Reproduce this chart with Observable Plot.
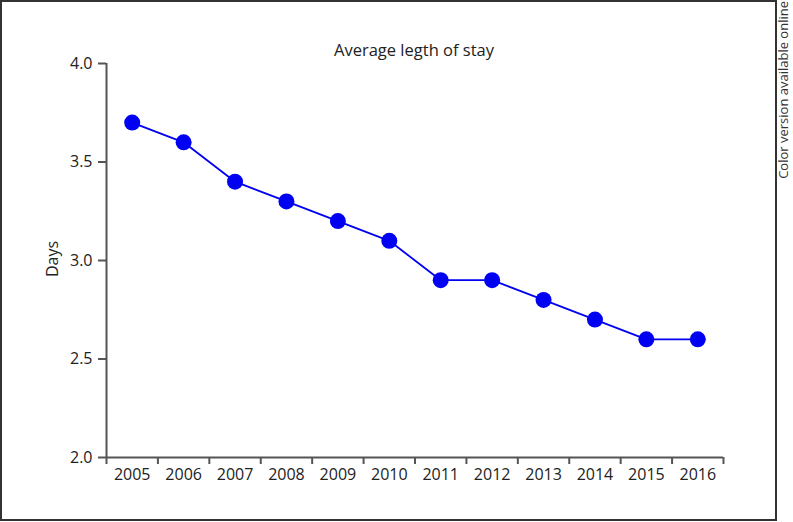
<!DOCTYPE html>
<html><head><meta charset="utf-8">
<script src="https://cdn.jsdelivr.net/npm/d3@7"></script>
<script src="https://cdn.jsdelivr.net/npm/@observablehq/plot@0.6"></script>
<style>
body{margin:0;background:#fff;font-family:"Open Sans",sans-serif;}
#wrap{position:relative;width:793px;height:522px;overflow:hidden;}
#wrap svg{position:absolute;left:0;top:0;}
</style>
</head><body>
<div id="wrap"></div>
<script>
const years = [2005, 2006, 2007, 2008, 2009, 2010, 2011, 2012, 2013, 2014, 2015, 2016];
const days = [3.7, 3.6, 3.4, 3.3, 3.2, 3.1, 2.9, 2.9, 2.8, 2.7, 2.6, 2.6];
const yTicks = [2.0, 2.5, 3.0, 3.5, 4.0];
const title = "Average legth of stay";
const yLabel = "Days";
const sideNote = "Color version available online";

const data = years.map((year, i) => ({year, days: days[i]}));
const bounds = [...years.map(y => y - 0.5), years[years.length - 1] + 0.5];
const axisColor = "#555";
const blue = "#0000f2";

const chart = Plot.plot({
  width: 793, height: 522,
  marginLeft: 106, marginRight: 70, marginTop: 63, marginBottom: 65,
  style: {fontFamily: "Open Sans", fontSize: "16px", color: "#222", background: "transparent"},
  x: {domain: [bounds[0], bounds[bounds.length - 1]]},
  y: {domain: [yTicks[0], yTicks[yTicks.length - 1]]},
  marks: [
    Plot.axisY({ticks: yTicks, tickFormat: d => d.toFixed(1), tickSize: 8, tickPadding: 6, label: null, stroke: axisColor, strokeWidth: 2, fontSize: 16}),
    Plot.axisX({ticks: bounds, tickFormat: () => "", tickSize: 7, label: null, stroke: axisColor, strokeWidth: 2}),
    Plot.axisX({ticks: years, tickFormat: d => String(d), tickSize: 0, tickPadding: 11, label: null, fontSize: 16}),
    Plot.ruleX([bounds[0]], {stroke: axisColor, strokeWidth: 2}),
    Plot.ruleY([yTicks[0]], {stroke: axisColor, strokeWidth: 2}),
    Plot.line(data, {x: "year", y: "days", stroke: blue, strokeWidth: 1.8}),
    Plot.dot(data, {x: "year", y: "days", r: 8, fill: blue})
  ]
});

const wrap = document.getElementById("wrap");
wrap.appendChild(chart);

const ns = "http://www.w3.org/2000/svg";
const over = document.createElementNS(ns, "svg");
over.setAttribute("width", 793);
over.setAttribute("height", 522);
over.style.fontFamily = "Open Sans";
function el(tag, attrs, text) {
  const e = document.createElementNS(ns, tag);
  for (const k in attrs) e.setAttribute(k, attrs[k]);
  if (text != null) e.textContent = text;
  over.appendChild(e);
  return e;
}
el("rect", {x: 1, y: 1, width: 775, height: 519, fill: "none", stroke: "#333", "stroke-width": 2});
el("text", {x: 414, y: 55.5, "text-anchor": "middle", "font-size": 16.5, fill: "#222"}, title);
el("text", {transform: "translate(58,259) rotate(-90)", "text-anchor": "middle", "font-size": 16, fill: "#222"}, yLabel);
el("text", {transform: "translate(788,1) rotate(-90)", "text-anchor": "end", "font-size": 13, fill: "#333"}, sideNote);
wrap.appendChild(over);
</script>
</body></html>
